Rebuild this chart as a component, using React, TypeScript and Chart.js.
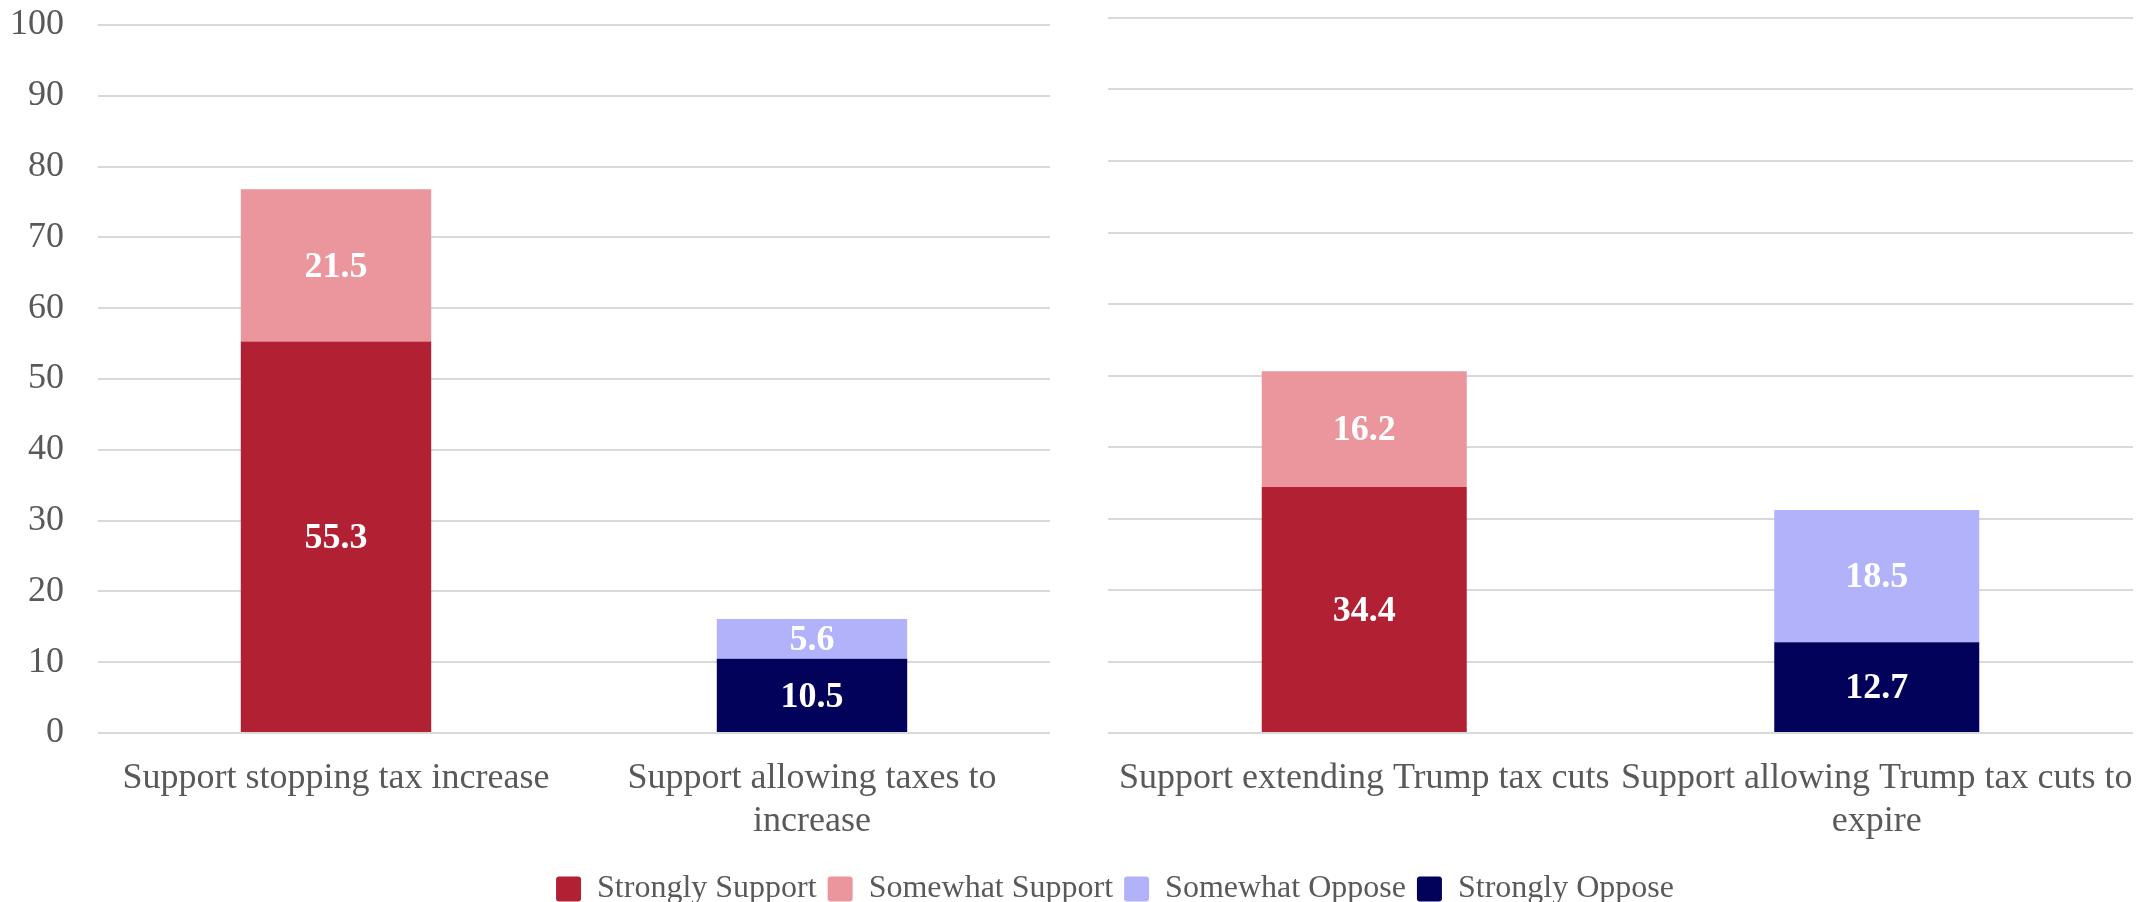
import React, { useEffect, useRef } from "react";
import { Chart, registerables } from "chart.js";

Chart.register(...registerables);

const categories: string[][] = [
  ["Support stopping tax increase"],
  ["Support allowing taxes to", "increase"],
  ["Support extending Trump tax cuts"],
  ["Support allowing Trump tax cuts to", "expire"],
];

const strongSupport: (number | null)[] = [55.3, null, 34.4, null];
const somewhatSupport: (number | null)[] = [21.5, null, 16.2, null];
const somewhatOppose: (number | null)[] = [null, 5.6, null, 18.5];
const stronglyOppose: (number | null)[] = [null, 10.5, null, 12.7];

const yTicks: number[] = [0, 10, 20, 30, 40, 50, 60, 70, 80, 90, 100];

const seriesNames = ["Strongly Support", "Somewhat Support", "Somewhat Oppose", "Strongly Oppose"];
const seriesColors = ["#B22034", "#EB959D", "#B2B2FA", "#02025A"];

const FONT = "'Liberation Serif', 'DejaVu Serif', serif";
const TEXT_COLOR = "#595959";
const GRID_COLOR = "#D9D9D9";

const dataLabelPlugin = {
  id: "segLabels",
  afterDatasetsDraw(chart: any) {
    const ctx = chart.ctx;
    ctx.save();
    ctx.font = `bold 36px ${FONT}`;
    ctx.fillStyle = "#FFFFFF";
    ctx.textAlign = "center";
    ctx.textBaseline = "middle";
    chart.data.datasets.forEach((ds: any, di: number) => {
      const meta = chart.getDatasetMeta(di);
      meta.data.forEach((el: any, i: number) => {
        const v = ds.data[i];
        if (v === null || v === undefined) return;
        const { x, y, base } = el.getProps(["x", "y", "base"], true);
        ctx.fillText(v.toFixed(1), x, (y + base) / 2 + 2);
      });
    });
    ctx.restore();
  },
};

function panelConfig(start: number, showY: boolean, padding: any, yWidth: number) {
  const sl = (a: (number | null)[]) => a.slice(start, start + 2);
  // stacking order: support bars from bottom: strong then somewhat; oppose: strong at bottom
  const datasets = [
    { label: seriesNames[0], data: sl(strongSupport), backgroundColor: seriesColors[0] },
    { label: seriesNames[1], data: sl(somewhatSupport), backgroundColor: seriesColors[1] },
    { label: seriesNames[3], data: sl(stronglyOppose), backgroundColor: seriesColors[3] },
    { label: seriesNames[2], data: sl(somewhatOppose), backgroundColor: seriesColors[2] },
  ].map((d) => ({ ...d, barPercentage: 0.4, categoryPercentage: 1.0, borderWidth: 0 }));
  return {
    type: "bar" as const,
    data: { labels: categories.slice(start, start + 2), datasets },
    options: {
      animation: false,
      responsive: false,
      maintainAspectRatio: false,
      layout: { padding },
      plugins: { legend: { display: false }, tooltip: { enabled: false } },
      scales: {
        x: {
          stacked: true,
          grid: {
            display: true,
            color: "rgba(0,0,0,0)",
            tickColor: "rgba(0,0,0,0)",
            drawTicks: true,
            tickLength: 24,
            drawOnChartArea: false,
          },
          border: { display: false },
          afterFit: (axis: any) => {
            axis.height = 127;
          },
          ticks: {
            color: TEXT_COLOR,
            font: { family: FONT, size: 36, lineHeight: 1.2 },
            padding: 0,
            autoSkip: false,
            maxRotation: 0,
            minRotation: 0,
          },
        },
        y: {
          stacked: true,
          min: 0,
          max: 100,
          afterBuildTicks: (axis: any) => {
            axis.ticks = yTicks.map((v) => ({ value: v }));
          },
          afterFit: (axis: any) => {
            axis.width = yWidth;
          },
          grid: {
            color: GRID_COLOR,
            lineWidth: 2,
            drawTicks: showY,
            tickLength: 34,
            tickColor: "rgba(0,0,0,0)",
          },
          border: { display: false },
          ticks: {
            display: showY,
            color: TEXT_COLOR,
            font: { family: FONT, size: 36 },
            padding: 0,
          },
        },
      },
    },
    plugins: [dataLabelPlugin],
  };
}

function legendConfig() {
  return {
    type: "bar" as const,
    data: {
      labels: [],
      datasets: seriesNames.map((n, i) => ({ label: n, data: [], backgroundColor: seriesColors[i] })),
    },
    options: {
      animation: false,
      responsive: false,
      maintainAspectRatio: false,
      layout: { padding: { left: 88, top: 0 } },
      plugins: {
        tooltip: { enabled: false },
        legend: {
          display: true,
          position: "top" as const,
          labels: {
            color: TEXT_COLOR,
            font: { family: FONT, size: 32 },
            boxWidth: 25,
            boxHeight: 25,
            padding: 11,
            useBorderRadius: true,
            borderRadius: 3,
          },
        },
      },
      scales: { x: { display: false }, y: { display: false } },
    },
  };
}

export default function App() {
  const leftRef = useRef<HTMLCanvasElement>(null);
  const rightRef = useRef<HTMLCanvasElement>(null);
  const legRef = useRef<HTMLCanvasElement>(null);

  useEffect(() => {
    const c1 = new Chart(leftRef.current!, panelConfig(0, true, { top: 25, left: 0, right: 10, bottom: 0 }, 98) as any);
    const c2 = new Chart(rightRef.current!, panelConfig(2, false, { top: 18, left: 0, right: 9, bottom: 0 }, 0) as any);
    const c3 = new Chart(legRef.current!, legendConfig() as any);
    return () => {
      c1.destroy();
      c2.destroy();
      c3.destroy();
    };
  }, []);

  return (
    <div style={{ position: "absolute", left: 0, top: 0, width: 2142, height: 902, overflow: "hidden", background: "#fff" }}>
      <canvas ref={leftRef} width={1060} height={860} style={{ position: "absolute", left: 0, top: 0, width: 1060, height: 860 }} />
      <canvas ref={rightRef} width={1034} height={860} style={{ position: "absolute", left: 1108, top: 0, width: 1034, height: 860 }} />
      <canvas ref={legRef} width={2142} height={140} style={{ position: "absolute", left: 0, top: 862, width: 2142, height: 140 }} />
    </div>
  );
}
